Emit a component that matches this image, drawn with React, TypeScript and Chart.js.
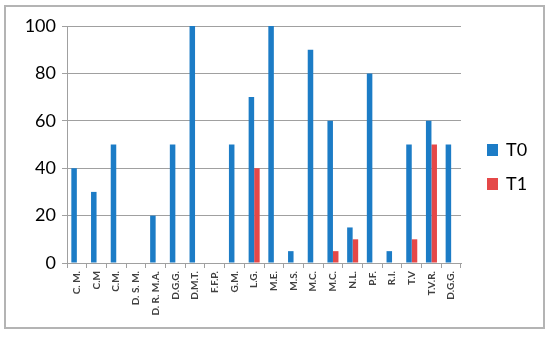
import React, { useEffect, useRef } from "react";
import { Chart, registerables } from "chart.js";

Chart.register(...registerables);

const categories = [
  "C. M.", "C.M", "C.M.", "D. S. M.", "D. R. M.A.", "D.G.G.", "D.M.T.", "F.F.P.", "G.M.", "L.G.",
  "M.E.", "M.S.", "M.C.", "M.C.", "N.L.", "P.F.", "R.I.", "T.V", "T.V.R.", "D.G.G.",
];
const t0Values = [40, 30, 50, 0, 20, 50, 100, 0, 50, 70, 100, 5, 90, 60, 15, 80, 5, 50, 60, 50];
const t1Values = [0, 0, 0, 0, 0, 0, 0, 0, 0, 40, 0, 0, 0, 5, 10, 0, 0, 10, 50, 0];
const seriesNames = ["T0", "T1"];
const yTicks = [0, 20, 40, 60, 80, 100];

const BLUE = "#1c7cc6";
const RED = "#e54848";
const FONT = "Lato, 'Liberation Sans', sans-serif";

export default function App() {
  const ref = useRef<HTMLCanvasElement | null>(null);

  useEffect(() => {
    document.body.style.margin = "0";
    const canvas = ref.current;
    if (!canvas) return;

    const framePlugin = {
      id: "frame",
      afterDraw(chart: any) {
        const ctx = chart.ctx;
        ctx.save();
        ctx.strokeStyle = "#b4b4b4";
        ctx.lineWidth = 2;
        ctx.strokeRect(5, 6, 539, 322);
        // legend
        const colors = [BLUE, RED];
        ctx.font = `18px ${FONT}`;
        ctx.textBaseline = "middle";
        ctx.fillStyle = "#000";
        seriesNames.forEach((name, i) => {
          const y = 144 + i * 34;
          ctx.fillStyle = colors[i];
          ctx.fillRect(487, y, 11, 12);
          ctx.fillStyle = "#000";
          ctx.fillText(name, 506, y + 6.5);
        });
        ctx.restore();
      },
    };

    const chart = new Chart(canvas, {
      type: "bar",
      data: {
        labels: categories,
        datasets: [
          { label: seriesNames[0], data: t0Values, backgroundColor: BLUE, categoryPercentage: 0.56, barPercentage: 1 },
          { label: seriesNames[1], data: t1Values, backgroundColor: RED, categoryPercentage: 0.56, barPercentage: 1 },
        ],
      },
      options: {
        animation: false,
        responsive: false,
        devicePixelRatio: 1,
        layout: { padding: { left: 0, right: 89, top: 26, bottom: 0 } },
        plugins: { legend: { display: false }, tooltip: { enabled: false } },
        scales: {
          x: {
            grid: { display: true, drawOnChartArea: false, drawTicks: true, tickLength: 5, color: "#a0a0a0", offset: true },
            border: { display: true, color: "#a0a0a0" },
            ticks: {
              autoSkip: false,
              maxRotation: 90,
              minRotation: 90,
              color: "#404040",
              padding: 3,
              font: { family: FONT, size: 10, weight: "bold" },
            },
            afterFit(scale: any) {
              scale.height = 74;
            },
          },
          y: {
            min: 0,
            max: 100,
            afterBuildTicks(scale: any) {
              scale.ticks = yTicks.map((v) => ({ value: v }));
            },
            grid: { color: "#a0a0a0", drawTicks: true, tickLength: 5 },
            border: { display: true, color: "#a0a0a0" },
            ticks: {
              color: "#000",
              padding: 6,
              font: { family: FONT, size: 18 },
            },
            afterFit(scale: any) {
              scale.width = 67;
            },
          },
        },
      },
      plugins: [framePlugin],
    });

    return () => chart.destroy();
  }, []);

  return (
    <div style={{ width: 550, height: 337, background: "#fff" }}>
      <canvas ref={ref} width={550} height={337} style={{ display: "block", width: 550, height: 337 }} />
    </div>
  );
}
